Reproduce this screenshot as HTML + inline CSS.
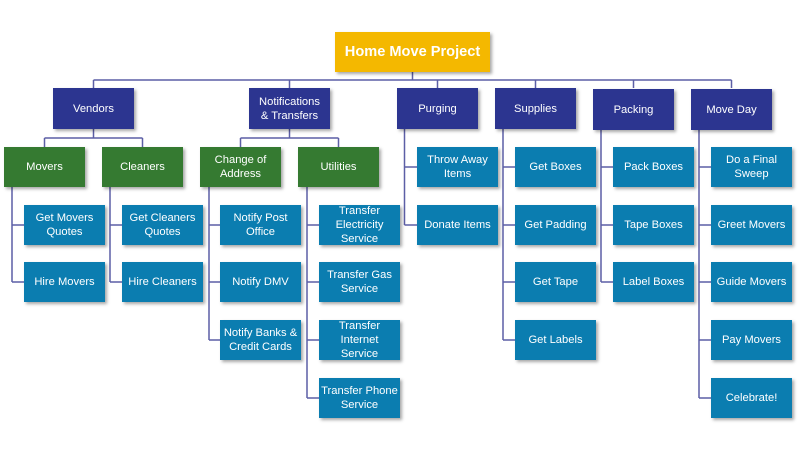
<!DOCTYPE html>
<html><head><meta charset="utf-8">
<style>
html,body{margin:0;padding:0;background:#fff;}
#c{position:relative;width:800px;height:450px;overflow:hidden;background:#fff;font-family:"Liberation Sans",Arial,sans-serif;}
.b{position:absolute;display:flex;align-items:center;justify-content:center;text-align:center;color:#fff;font-size:11.2px;line-height:13.7px;box-shadow:2px 2px 3px rgba(0,0,0,0.35);white-space:nowrap;box-sizing:border-box;padding-top:2px;}
.y{background:#F4B800;font-weight:bold;font-size:14.6px;}
.n{background:#2C3590;}
.g{background:#357A31;}
.u{background:#0B7DB0;}
svg{position:absolute;left:0;top:0;}
</style></head><body><div id="c">
<svg width="800" height="450" viewBox="0 0 800 450">
<g stroke="#5C5FA6" stroke-width="1.5" fill="none">
<path d="M412.5 72V80M93.5 80H731.5M93.5 80V88M289.5 80V88M437.5 80V88M535.5 80V88M633.5 80V88M731.5 80V88"/>
<path d="M93.5 129V138M44.5 138H142.5M44.5 138V147M142.5 138V147"/>
<path d="M289.5 129V138M240.5 138H338.5M240.5 138V147M338.5 138V147"/>
<path d="M12 187V282M12 225H24M12 282H24"/>
<path d="M110 187V282M110 225H122M110 282H122"/>
<path d="M209 187V340M209 225H220M209 282H220M209 340H220"/>
<path d="M307 187V398M307 225H319M307 282H319M307 340H319M307 398H319"/>
<path d="M404.5 129V225M404.5 167H417M404.5 225H417"/>
<path d="M503 129V340M503 167H515M503 225H515M503 282H515M503 340H515"/>
<path d="M601 129V282M601 167H613M601 225H613M601 282H613"/>
<path d="M699 129V398M699 167H711M699 225H711M699 282H711M699 340H711M699 398H711"/>
</g>
</svg>
<div class="b y" style="left:335px;top:32px;width:155px;height:40px;">Home Move Project</div>

<div class="b n" style="left:53px;top:88px;width:81px;height:41px;">Vendors</div>
<div class="b n" style="left:249px;top:88px;width:81px;height:41px;">Notifications<br>&amp; Transfers</div>
<div class="b n" style="left:397px;top:88px;width:81px;height:41px;">Purging</div>
<div class="b n" style="left:495px;top:88px;width:81px;height:41px;">Supplies</div>
<div class="b n" style="left:593px;top:89px;width:81px;height:41px;">Packing</div>
<div class="b n" style="left:691px;top:89px;width:81px;height:41px;">Move Day</div>

<div class="b g" style="left:4px;top:147px;width:81px;height:40px;">Movers</div>
<div class="b g" style="left:102px;top:147px;width:81px;height:40px;">Cleaners</div>
<div class="b g" style="left:200px;top:147px;width:81px;height:40px;">Change of<br>Address</div>
<div class="b g" style="left:298px;top:147px;width:81px;height:40px;">Utilities</div>

<div class="b u" style="left:24px;top:205px;width:81px;height:40px;">Get Movers<br>Quotes</div>
<div class="b u" style="left:24px;top:262px;width:81px;height:40px;">Hire Movers</div>

<div class="b u" style="left:122px;top:205px;width:81px;height:40px;">Get Cleaners<br>Quotes</div>
<div class="b u" style="left:122px;top:262px;width:81px;height:40px;">Hire Cleaners</div>

<div class="b u" style="left:220px;top:205px;width:81px;height:40px;">Notify Post<br>Office</div>
<div class="b u" style="left:220px;top:262px;width:81px;height:40px;">Notify DMV</div>
<div class="b u" style="left:220px;top:320px;width:81px;height:40px;">Notify Banks &amp;<br>Credit Cards</div>

<div class="b u" style="left:319px;top:205px;width:81px;height:40px;">Transfer<br>Electricity<br>Service</div>
<div class="b u" style="left:319px;top:262px;width:81px;height:40px;">Transfer Gas<br>Service</div>
<div class="b u" style="left:319px;top:320px;width:81px;height:40px;">Transfer<br>Internet<br>Service</div>
<div class="b u" style="left:319px;top:378px;width:81px;height:40px;">Transfer Phone<br>Service</div>

<div class="b u" style="left:417px;top:147px;width:81px;height:40px;">Throw Away<br>Items</div>
<div class="b u" style="left:417px;top:205px;width:81px;height:40px;">Donate Items</div>

<div class="b u" style="left:515px;top:147px;width:81px;height:40px;">Get Boxes</div>
<div class="b u" style="left:515px;top:205px;width:81px;height:40px;">Get Padding</div>
<div class="b u" style="left:515px;top:262px;width:81px;height:40px;">Get Tape</div>
<div class="b u" style="left:515px;top:320px;width:81px;height:40px;">Get Labels</div>

<div class="b u" style="left:613px;top:147px;width:81px;height:40px;">Pack Boxes</div>
<div class="b u" style="left:613px;top:205px;width:81px;height:40px;">Tape Boxes</div>
<div class="b u" style="left:613px;top:262px;width:81px;height:40px;">Label Boxes</div>

<div class="b u" style="left:711px;top:147px;width:81px;height:40px;">Do a Final<br>Sweep</div>
<div class="b u" style="left:711px;top:205px;width:81px;height:40px;">Greet Movers</div>
<div class="b u" style="left:711px;top:262px;width:81px;height:40px;">Guide Movers</div>
<div class="b u" style="left:711px;top:320px;width:81px;height:40px;">Pay Movers</div>
<div class="b u" style="left:711px;top:378px;width:81px;height:40px;">Celebrate!</div>
</div></body></html>
